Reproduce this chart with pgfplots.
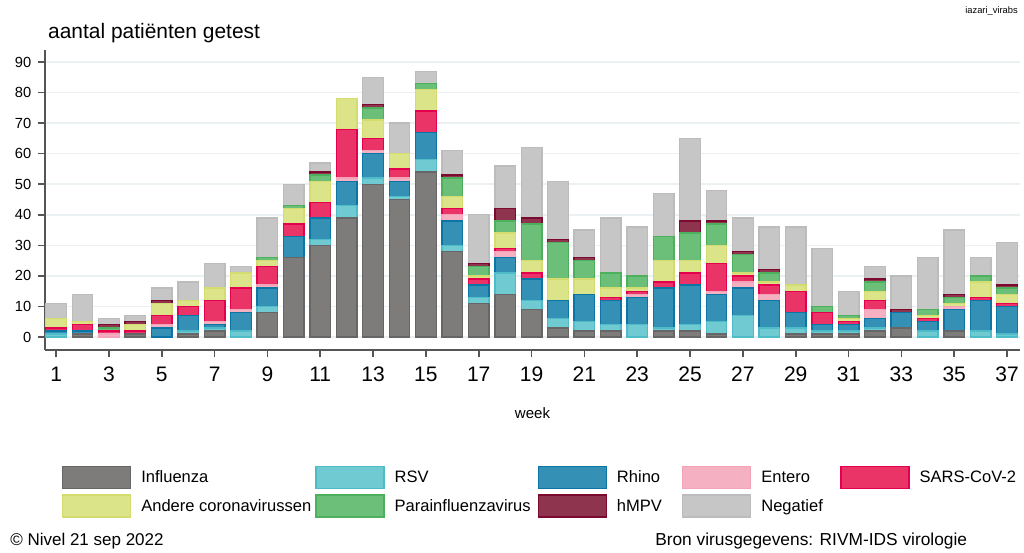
\documentclass[border=0pt]{standalone}
\usepackage{fontspec}
\setmainfont{Liberation Sans}
\usepackage{pgfplots}
\usepackage{pgfplotstable}
\pgfplotsset{compat=1.18}

\definecolor{cInf}{HTML}{7E7C7A}\definecolor{cInfD}{HTML}{666666}
\definecolor{cRSV}{HTML}{70CAD2}\definecolor{cRSVD}{HTML}{4DBCC8}
\definecolor{cRhi}{HTML}{3491B5}\definecolor{cRhiD}{HTML}{0B76A6}
\definecolor{cEnt}{HTML}{F5B1C1}\definecolor{cEntD}{HTML}{F3A3B8}
\definecolor{cSAR}{HTML}{EA3468}\definecolor{cSARD}{HTML}{E4004D}
\definecolor{cAnd}{HTML}{DCE489}\definecolor{cAndD}{HTML}{D4DC70}
\definecolor{cPar}{HTML}{6CBF79}\definecolor{cParD}{HTML}{4CB05D}
\definecolor{cHmp}{HTML}{8F344F}\definecolor{cHmpD}{HTML}{7A0A2E}
\definecolor{cNeg}{HTML}{C6C6C6}\definecolor{cNegD}{HTML}{BCBCBC}
\definecolor{axisgray}{HTML}{555555}
\definecolor{gridc}{HTML}{EBF0F3}

\pgfplotstableread{
week Inf RSV Rhino Entero SARS Andere Para hMPV Neg
1  0  1  1  0  1  3  0  0  5
2  1  0  1  0  2  1  0  0  9
3  0  0  0  1  1  0  1  1  2
4  1  0  0  0  1  2  0  1  2
5  0  0  3  1  3  4  0  1  4
6  1  1  5  0  3  2  0  0  6
7  2  1  1  1  7  4  0  0  8
8  0  2  6  1  7  5  0  0  2
9  8  2  6  1  6  2  1  0  13
10 26 0  7  0  4  5  1  0  7
11 30 2  7  0  5  7  2  1  3
12 39 4  8  1  16 10 0  0  0
13 50 2  8  1  4  6  4  1  9
14 45 1  5  1  3  5  0  0  10
15 54 4  9  0  7  7  2  0  4
16 28 2  8  2  2  4  6  1  8
17 11 2  4  0  2  1  3  1  16
18 14 7  5  2  1  5  4  4  14
19 9  3  7  0  2  4  12 2  23
20 3  3  6  0  0  7  12 1  19
21 2  3  9  0  0  5  6  1  9
22 2  2  8  0  1  3  5  0  18
23 0  4  9  1  1  1  4  0  16
24 2  1  13 0  2  7  8  0  14
25 2  2  13 0  4  4  9  4  27
26 1  4  9  1  9  6  7  1  10
27 0  7  9  2  2  1  6  1  11
28 0  3  9  2  3  1  3  1  14
29 1  2  5  0  7  2  0  0  19
30 1  1  2  0  4  0  2  0  19
31 1  1  2  0  1  1  1  0  8
32 2  1  3  3  3  3  3  1  4
33 3  0  5  0  0  0  0  1  11
34 0  2  3  0  1  1  2  0  17
35 2  0  7  1  0  1  2  1  21
36 0  2  10 0  1  5  2  0  6
37 0  1  9  0  1  3  2  1  14
}\datatable

\pgfplotsset{
  mybar/.style n args={2}{fill=#1, draw=#2, line width=1pt,
    legend image code/.code={\draw[fill=#1, draw=#2, line width=1pt] (0pt,-8.25pt) rectangle (51pt,8.25pt);}},
}

\begin{document}
\begin{tikzpicture}
\useasboundingbox (0,0) rectangle (768pt,414.75pt);
\begin{axis}[
  at={(33.75pt,152.25pt)}, anchor=south west,
  scale only axis, width=731.25pt, height=225pt,
  xmin=0.58, xmax=37.49, ymin=-4.25, ymax=93.93,
  ybar stacked, bar width=0.78,
  axis x line*=bottom, axis y line*=left,
  axis line style={draw=axisgray, line width=1.2pt},
  tick align=outside, major tick length=5.25pt,
  tick style={draw=axisgray, line width=1.2pt},
  xtick={1,3,...,37}, ytick={0,10,...,90},
  ymajorgrids, grid style={draw=gridc, line width=1.1pt},
  /pgf/number format/assume math mode=true,
  xticklabel style={font=\fontsize{15.75}{18}\selectfont, yshift=-4pt},
  yticklabel style={font=\fontsize{11}{13}\selectfont, xshift=-1.5pt},
  xlabel={week},
  xlabel style={font=\fontsize{11.25}{13}\selectfont, at={(axis description cs:0.5,-0.21)}, anchor=center},
  every axis title shift=0pt,
  title={aantal patiënten getest},
  title style={font=\fontsize{15.7}{18}\selectfont, inner sep=0pt, at={(axis description cs:0.003,1.055)}, anchor=west},
  legend columns=5,
  legend cell align=left,
  legend style={at={(axis description cs:0.0174,-0.3867)}, anchor=north west,
    draw=none, fill=none, inner sep=0pt, outer sep=0pt, row sep=3.75pt,
    font=\fontsize{12.4}{14}\selectfont,
    /tikz/every odd column/.append style={column sep=7.5pt},
    /tikz/column 2/.append style={column sep=3pt},
    /tikz/column 4/.append style={column sep=5.25pt},
    /tikz/column 6/.append style={column sep=15pt},
    /tikz/column 8/.append style={column sep=13pt},
    nodes={inner sep=0pt}},
]
\addplot[mybar={cInf}{cInfD}] table[x=week,y=Inf]{\datatable};
\addlegendentry{Influenza}
\addplot[mybar={cRSV}{cRSVD}] table[x=week,y=RSV]{\datatable};
\addlegendentry{RSV}
\addplot[mybar={cRhi}{cRhiD}] table[x=week,y=Rhino]{\datatable};
\addlegendentry{Rhino}
\addplot[mybar={cEnt}{cEntD}] table[x=week,y=Entero]{\datatable};
\addlegendentry{Entero}
\addplot[mybar={cSAR}{cSARD}] table[x=week,y=SARS]{\datatable};
\addlegendentry{SARS-CoV-2}
\addplot[mybar={cAnd}{cAndD}] table[x=week,y=Andere]{\datatable};
\addlegendentry{Andere coronavirussen}
\addplot[mybar={cPar}{cParD}] table[x=week,y=Para]{\datatable};
\addlegendentry{Parainfluenzavirus}
\addplot[mybar={cHmp}{cHmpD}] table[x=week,y=hMPV]{\datatable};
\addlegendentry{hMPV}
\addplot[mybar={cNeg}{cNegD}] table[x=week,y=Neg]{\datatable};
\addlegendentry{Negatief}
\end{axis}
\node[anchor=east, font=\fontsize{7}{8.5}\selectfont, inner sep=0pt] at (763.5pt,406.5pt) {iazari\_virabs};
\node[anchor=west, font=\fontsize{12.75}{15}\selectfont, inner sep=0pt] at (7.5pt,9pt) {© Nivel 21 sep 2022};
\node[anchor=west, font=\fontsize{13}{15}\selectfont, inner sep=0pt] at (491.25pt,9pt) {Bron virusgegevens: RIVM-IDS virologie};
\end{tikzpicture}
\end{document}
